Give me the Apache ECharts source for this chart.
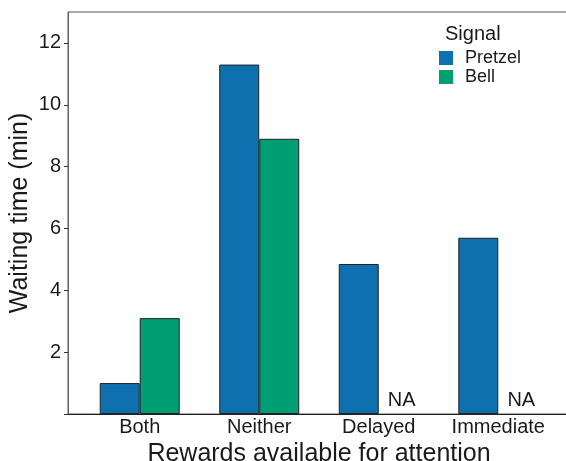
<!DOCTYPE html>
<html>
<head>
<meta charset="utf-8">
<script src="https://cdn.jsdelivr.net/npm/echarts@6/dist/echarts.min.js"></script>
<style>
html,body{margin:0;padding:0;background:#fff;}
#chart{width:566px;height:461px;}
</style>
</head>
<body>
<div id="chart"></div>
<script>
const categories = ['Both', 'Neither', 'Delayed', 'Immediate'];
const pretzelValues = [1.0, 11.3, 4.85, 5.7];
const bellValues = [3.1, 8.9, null, null];
const yTickValues = [2, 4, 6, 8, 10, 12];

const FONT = "'Liberation Sans', Arial, Helvetica, sans-serif";
const TXT = '#1a1a1a';
const BLUE = '#0F70AF';
const GREEN = '#009E73';

const pretzelData = pretzelValues.map((v, i) => [i + 1, v]);
const bellData = bellValues.map((v, i) => {
  if (v === null) {
    return {
      value: [i + 1, 0],
      itemStyle: { color: 'rgba(0,0,0,0)', borderWidth: 0 },
      label: {
        show: true, position: 'top', distance: 4, offset: [3, 0],
        formatter: 'NA', fontSize: 20, color: TXT, fontFamily: FONT
      }
    };
  }
  return [i + 1, v];
});

const chart = echarts.init(document.getElementById('chart'), null, { renderer: 'canvas' });
chart.setOption({
  animation: false,
  backgroundColor: '#fff',
  textStyle: { fontFamily: FONT, color: TXT },
  title: {
    text: 'Signal', left: 445, top: 24, padding: 0,
    textStyle: { fontSize: 20, fontWeight: 'normal', color: TXT, fontFamily: FONT }
  },
  legend: {
    orient: 'vertical', left: 439, top: 49, padding: 0,
    itemWidth: 14, itemHeight: 14, itemGap: 1,
    icon: 'rect',
    itemStyle: { borderWidth: 0 },
    textStyle: { fontSize: 18, color: TXT, fontFamily: FONT, padding: [0, 0, 0, 7] },
    data: ['Pretzel', 'Bell']
  },
  grid: {
    left: 68, top: 12, right: -4, bottom: 47,
    show: true, borderColor: '#555', borderWidth: 1, backgroundColor: 'transparent',
    containLabel: false, outerBoundsMode: 'none'
  },
  xAxis: {
    type: 'value', min: 0.4, max: 4.6,
    name: 'Rewards available for attention',
    nameLocation: 'middle', nameGap: 28, nameMoveOverlap: false,
    nameTextStyle: { fontSize: 25, color: TXT, fontFamily: FONT },
    axisLine: { show: true, lineStyle: { color: '#222', width: 1 } },
    axisTick: { show: false },
    splitLine: { show: false },
    axisLabel: {
      customValues: [1, 2, 3, 4],
      formatter: v => categories[Math.round(v) - 1] || '',
      fontSize: 20, color: TXT, fontFamily: FONT, margin: 3
    }
  },
  yAxis: {
    type: 'value', min: 0, max: 13,
    name: 'Waiting time (min)',
    nameLocation: 'middle', nameGap: 35, nameMoveOverlap: false,
    nameTextStyle: { fontSize: 25, color: TXT, fontFamily: FONT },
    axisLine: { show: true, lineStyle: { color: '#666', width: 1 } },
    axisTick: { show: true, length: 4, customValues: [0].concat(yTickValues), lineStyle: { color: '#333' } },
    splitLine: { show: false },
    axisLabel: {
      customValues: yTickValues,
      fontSize: 20, color: TXT, fontFamily: FONT, margin: 7
    }
  },
  series: [
    {
      name: 'Pretzel', type: 'bar', data: pretzelData,
      barWidth: 40, barGap: '0%',
      itemStyle: { color: BLUE, borderColor: '#222', borderWidth: 1 }
    },
    {
      name: 'Bell', type: 'bar', data: bellData,
      barWidth: 40, barGap: '0%',
      itemStyle: { color: GREEN, borderColor: '#222', borderWidth: 1 }
    }
  ]
});
</script>
</body>
</html>
